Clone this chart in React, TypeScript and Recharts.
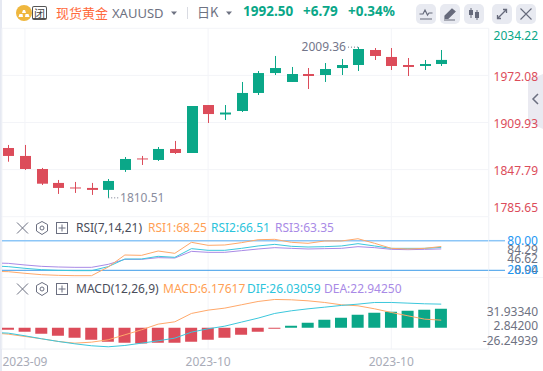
import React from 'react'
import {
  Bar,
  CartesianGrid,
  Cell,
  ComposedChart,
  Line,
  ReferenceDot,
  ReferenceLine,
  XAxis,
  YAxis,
} from 'recharts'

const GREEN = '#0aa788'
const RED = '#dc4c5a'
const ORANGE = '#ffa86a'
const CYAN = '#3cc7dc'
const PURPLE = '#a98ae6'
const GRID = '#f3f4f8'
const FONT = '"Noto Sans", sans-serif'

const opens = [1876.3, 1865.8, 1848.6, 1830.2, 1824.2, 1823.6, 1821, 1847.3, 1862.5, 1860.5, 1875, 1869.7, 1933, 1920.5, 1925.1, 1948.9, 1975.2, 1963.4, 1973.9, 1972.6, 1981.8, 1985.8, 2005.6, 1996.4, 1985.8, 1984.5, 1987.1]
const closes = [1865.8, 1848.6, 1829.2, 1823.6, 1822.9, 1821, 1832.8, 1861.8, 1861.2, 1875, 1869.7, 1931.7, 1921.1, 1923.1, 1948.9, 1975.2, 1981.8, 1973.9, 1971.3, 1980.5, 1985.8, 2006.9, 1997.7, 1984.5, 1983.2, 1987.1, 1992.5]
const highs = [1880.3, 1880.3, 1850, 1834.1, 1831.5, 1830.2, 1835.4, 1864.4, 1865.8, 1877.6, 1885.6, 1931.7, 1933, 1933, 1963.4, 1977.9, 1997.7, 1983.2, 1981.8, 1988.4, 1993.7, 2009.36, 2008.2, 2008.2, 1995, 1992.4, 2005.6]
const lows = [1858.2, 1847.3, 1827.5, 1815.7, 1817, 1814.4, 1810.51, 1844.7, 1853.9, 1859.2, 1868.4, 1869.7, 1909.3, 1913.2, 1923.8, 1946.2, 1972.6, 1963.4, 1954.1, 1963.4, 1972.6, 1977.9, 1992.4, 1979.2, 1971.3, 1979.2, 1984.5]

// first value of each line belongs to the candle just off the left edge
const rsi1 = [18, 17.2, 13.9, 11.1, 9.8, 9.1, 9.1, 26.7, 51, 50.3, 59.1, 54.4, 76.7, 70.6, 71.3, 76, 82, 82.8, 76.7, 74.7, 79.4, 79.4, 84, 74.7, 64.5, 63.2, 64.5, 68.25]
const rsi2 = [29, 27.4, 24, 21.3, 19.9, 19.3, 19.3, 27.4, 42.9, 42.9, 48.3, 46.3, 63.9, 60.5, 60.5, 64.5, 69.3, 72.6, 68.6, 67.2, 67.9, 69.3, 74, 69.3, 64.5, 64.5, 64.5, 66.51]
const rsi3 = [35, 34.1, 30.8, 28, 26.7, 26, 26, 32.1, 42.2, 42.2, 45.6, 44.9, 58.4, 56.4, 56.4, 59.8, 63.2, 65.9, 64.5, 63.2, 63.9, 64.5, 67.9, 65.9, 62.5, 61.8, 62.5, 63.35]

const macdBars = [-4, -7.9, -11.9, -15.9, -19.9, -23.8, -27.8, -29.8, -31.1, -29.8, -29.8, -27.8, -23.8, -19.9, -13.9, -7.9, -2, 4, 9.9, 15.9, 19.9, 25.8, 29.8, 31.8, 33.8, 35.7, 37.7]
const difLine = [-9, -10.6, -15.9, -21.8, -27.1, -31.8, -35.7, -37.7, -35.1, -30.5, -25.8, -20.5, -8.6, -2, 3.3, 11.3, 19.2, 28.5, 33.8, 37.7, 41, 44.4, 47, 50.3, 50.3, 49, 47.7, 47]
const deaLine = [-10, -12.6, -17.2, -21.8, -27.1, -30.5, -28.5, -23.8, -13.9, -4, 7.3, 11.9, 28.5, 35.1, 39.1, 45.7, 52.3, 56.3, 55.6, 53.6, 50.3, 45.7, 43.7, 37.7, 30.5, 23.8, 17.2, 15.2]

const priceTicks = [2034.22, 1972.08, 1909.93, 1847.79, 1785.65]
const rsiTicks = [80, 61.1, 42.9, 20.6, 20]
const rsiTickLabels = ['80.00', '84.29', '46.62', '8.94', '20.00']
const macdTicks = [31.9334, 2.842, -26.24939]
const macdTickLabels = ['31.93340', '2.84200', '-26.24939']
const dateTicks = [1, 12, 23]
const dateTickLabels = ['2023-09', '2023-10', '2023-10']

const candleRows = opens.map((open, i) => ({
  x: i,
  open,
  close: closes[i],
  high: highs[i],
  low: lows[i],
}))
const rsiRows = rsi1.map((v, i) => ({ x: i - 1, rsi1: v, rsi2: rsi2[i], rsi3: rsi3[i] }))
const macdRows = difLine.map((v, i) => ({
  x: i - 1,
  dif: v,
  dea: deaLine[i],
  macd: i === 0 ? null : macdBars[i - 1],
}))

const X_DOMAIN: [number, number] = [-0.378, 28.85]
const AXIS_W = 54.3

function Candle(props: any) {
  const { x, y, width, height, payload } = props
  const perUnit = height / (payload.high - payload.low)
  const top = Math.max(payload.open, payload.close)
  const bottom = Math.min(payload.open, payload.close)
  const color = payload.close >= payload.open ? GREEN : RED
  const cx = Math.round(x + width / 2) + 0.5
  return (
    <g>
      <line x1={cx} x2={cx} y1={y} y2={y + height} stroke={color} strokeWidth={1} />
      <rect
        x={cx - width / 2}
        y={y + (payload.high - top) * perUnit}
        width={width}
        height={Math.max((top - bottom) * perUnit, 1)}
        fill={color}
      />
    </g>
  )
}

function priceTick(props: any) {
  const { y, payload } = props
  // top and bottom labels are pushed inside the pane
  let ty = y + 1.5
  if (payload.value === priceTicks[0]) ty = y + 8
  if (payload.value === priceTicks[4]) ty = y - 9
  return (
    <text x={538} y={ty} dy={4} textAnchor="end" fontSize={12} fontFamily={FONT}
      fill={payload.value === priceTicks[0] ? GREEN : RED}>
      {payload.value.toFixed(2)}
    </text>
  )
}

function rsiTick(props: any) {
  const { y, payload } = props
  const label = rsiTickLabels[rsiTicks.indexOf(payload.value)]
  const blue = payload.value === 80 || payload.value === 20
  return (
    <g>
      {blue && (
        <line x1={488.7} x2={505} y1={y} y2={y}
          stroke={payload.value === 80 ? '#8cc6f7' : '#3d9be9'}
          strokeWidth={payload.value === 80 ? 1.5 : 1} />
      )}
      <text x={538} y={y} dy={4} textAnchor="end" fontSize={12} fontFamily={FONT}
        fill={blue ? '#2196f3' : '#6e7282'}>
        {label}
      </text>
    </g>
  )
}

function macdTick(props: any) {
  const { y, payload } = props
  return (
    <text x={538} y={y} dy={4} textAnchor="end" fontSize={12} fontFamily={FONT} fill="#6e7282">
      {macdTickLabels[macdTicks.indexOf(payload.value)]}
    </text>
  )
}

function Txt({ x, y, color, size = 12, weight = 400, children }: any) {
  return (
    <span
      style={{
        position: 'absolute',
        left: x,
        top: y,
        transform: 'translateY(-50%)',
        color,
        fontSize: size,
        fontWeight: weight,
        fontFamily: FONT,
        lineHeight: 1,
        whiteSpace: 'nowrap',
      }}
    >
      {children}
    </span>
  )
}

function PaneIcons({ y }: { y: number }) {
  const c = '#6b6f80'
  return (
    <svg style={{ position: 'absolute', left: 0, top: y - 8 }} width={72} height={16}>
      <path d="M17 2.5 L28 13.5 M28 2.5 L17 13.5" stroke={c} strokeWidth={1} fill="none" />
      <path d="M42 1.5 L47.5 4.5 V11 L42 14.5 L36.5 11 V4.5 Z" stroke={c} strokeWidth={1} fill="none" />
      <circle cx={42} cy={8} r={2} stroke={c} strokeWidth={1} fill="none" />
      <rect x={56.5} y={2.5} width={11} height={11} stroke={c} strokeWidth={1} fill="none" />
      <path d="M62 4.5 V11.5 M58.5 8 H65.5" stroke={c} strokeWidth={1} fill="none" />
    </svg>
  )
}

function ToolButton({ x, children }: any) {
  return (
    <svg style={{ position: 'absolute', left: x, top: 4 }} width={20} height={20}>
      <rect width={20} height={20} rx={5} fill="#e8eaf1" />
      {children}
    </svg>
  )
}

function Header() {
  const c = '#666a7b'
  return (
    <>
      <svg style={{ position: 'absolute', left: 16, top: 5 }} width={16} height={16}>
        <circle cx={8} cy={8} r={8} fill="#efb73e" />
        <path d="M6 8 L10 8 L9 5 L7 5 Z M2.5 12 L7 12 L6.5 9 L3.5 9 Z M9 12 L13.5 12 L12.5 9 L9.5 9 Z" fill="#fff" />
      </svg>
      <div
        style={{
          position: 'absolute', left: 32, top: 6, width: 15, height: 14, boxSizing: 'border-box',
          border: '1px solid #555', borderBottomWidth: 2, borderRadius: 2, textAlign: 'center',
          fontSize: 11, lineHeight: '12px', color: '#444', fontFamily: '"Noto Sans CJK SC"',
        }}
      >
        闭
      </div>
      <span style={{ position: 'absolute', left: 56, top: 3, fontSize: 13, lineHeight: '19px', color: '#ff6a3d', fontFamily: '"Noto Sans CJK SC"', whiteSpace: 'nowrap' }}>
        现货黄金
      </span>
      <Txt x={112} y={13} color="#6e7282" size={13}>XAUUSD</Txt>
      <svg style={{ position: 'absolute', left: 170, top: 4 }} width={64} height={18}>
        <path d="M1 7.5 H7 L4 11 Z" fill="#6e7282" />
        <line x1={17.5} x2={17.5} y1={3} y2={15} stroke="#d9dbe2" />
        <path d="M56 7.5 H62 L59 11 Z" fill="#6e7282" />
      </svg>
      <span style={{ position: 'absolute', left: 197, top: 2, fontSize: 13, lineHeight: '19px', color: '#6e7282', fontFamily: '"Noto Sans CJK SC"', whiteSpace: 'nowrap' }}>
        日K
      </span>
      <Txt x={243} y={12} color={GREEN} size={13.5} weight={700}>1992.50</Txt>
      <Txt x={303} y={12} color={GREEN} size={13.5} weight={700}>+6.79</Txt>
      <Txt x={348} y={12} color={GREEN} size={13.5} weight={700}>+0.34%</Txt>

      <ToolButton x={416}>
        <path d="M3.5 10 H7 L9 6 L11.5 11 L13 9 H16.5 M4 15 H16" stroke={c} strokeWidth={1.2} fill="none" />
      </ToolButton>
      <ToolButton x={440}>
        <path d="M5 12 L12 5 L15 7.5 L8 14.5 H5 Z M4 16 H15" stroke={c} strokeWidth={1.2} fill={c} />
      </ToolButton>
      <ToolButton x={464}>
        <path d="M7 4 V14 M13 6 V16" stroke={c} strokeWidth={1} />
        <rect x={5} y={6} width={4} height={5} fill={c} />
        <rect x={11} y={8} width={4} height={6} fill={c} />
      </ToolButton>
      <ToolButton x={492}>
        <path d="M6 14 L14 6 M11 5.5 H14.5 V9 M9 14.5 H5.5 V11" stroke={c} strokeWidth={1.3} fill="none" />
      </ToolButton>
      <ToolButton x={516}>
        <path d="M4.5 4.5 L15.5 15.5 M15.5 4.5 L4.5 15.5" stroke={c} strokeWidth={1.1} fill="none" />
      </ToolButton>
    </>
  )
}

function MainPane() {
  return (
    <ComposedChart
      style={{ position: 'absolute', left: 0, top: 0 }}
      width={543}
      height={218}
      data={candleRows}
      margin={{ top: 28.3, right: 0, bottom: 1.3, left: 2 }}
    >
      <CartesianGrid stroke={GRID} />
      <XAxis dataKey="x" type="number" scale="linear" domain={X_DOMAIN} allowDataOverflow ticks={dateTicks} hide />
      <YAxis
        orientation="right"
        width={AXIS_W}
        scale="linear"
        domain={[priceTicks[4], priceTicks[0]]}
        ticks={priceTicks}
        interval={0}
        tick={priceTick}
        tickLine={false}
        axisLine={{ stroke: GRID }}
      />
      <Bar dataKey={(d: any) => [d.low, d.high]} barSize={11} shape={Candle} isAnimationActive={false} />
      <ReferenceLine
        segment={[{ x: 20.4, y: highs[21] }, { x: 21, y: highs[21] }]}
        stroke="#73768a"
        strokeDasharray="1 2"
      />
      <ReferenceDot
        x={20.4}
        y={highs[21]}
        r={0}
        label={{ value: highs[21].toFixed(2), position: 'left', offset: 2, fontSize: 12, fontFamily: FONT, fill: '#73768a' }}
      />
      <ReferenceLine
        segment={[{ x: 6, y: lows[6] }, { x: 6.65, y: lows[6] }]}
        stroke="#73768a"
        strokeDasharray="1 2"
      />
      <ReferenceDot
        x={6.65}
        y={lows[6]}
        r={0}
        label={{ value: lows[6].toFixed(2), position: 'right', offset: 1, fontSize: 12, fontFamily: FONT, fill: '#8a8d9e' }}
      />
    </ComposedChart>
  )
}

function RsiPane() {
  return (
    <ComposedChart
      style={{ position: 'absolute', left: 0, top: 217 }}
      width={543}
      height={60}
      data={rsiRows}
      margin={{ top: 0, right: 0, bottom: 0, left: 2 }}
    >
      <CartesianGrid stroke={GRID} horizontal={false} />
      <XAxis dataKey="x" type="number" scale="linear" domain={X_DOMAIN} allowDataOverflow ticks={dateTicks} hide />
      <YAxis
        orientation="right"
        width={AXIS_W}
        scale="linear"
        domain={[6.42, 128.04]}
        ticks={rsiTicks}
        interval={0}
        tick={rsiTick}
        tickLine={false}
        axisLine={{ stroke: GRID }}
      />
      <ReferenceLine y={80} stroke="#8cc6f7" strokeWidth={1.5} />
      <ReferenceLine y={20} stroke="#3d9be9" />
      <Line dataKey="rsi3" stroke={PURPLE} dot={false} strokeWidth={1} isAnimationActive={false} />
      <Line dataKey="rsi2" stroke={CYAN} dot={false} strokeWidth={1} isAnimationActive={false} />
      <Line dataKey="rsi1" stroke={ORANGE} dot={false} strokeWidth={1} isAnimationActive={false} />
    </ComposedChart>
  )
}

function MacdPane() {
  return (
    <ComposedChart
      style={{ position: 'absolute', left: 0, top: 277 }}
      width={543}
      height={94}
      data={macdRows}
      margin={{ top: 0, right: 0, bottom: 0, left: 2 }}
    >
      <CartesianGrid stroke={GRID} horizontal={false} />
      <XAxis
        dataKey="x"
        type="number"
        scale="linear"
        domain={X_DOMAIN}
        allowDataOverflow
        ticks={dateTicks}
        interval={0}
        height={22}
        tickFormatter={(v: number) => dateTickLabels[dateTicks.indexOf(v)]}
        tick={{ fontSize: 12, fontFamily: FONT, fill: '#a9acb8' }}
        tickLine={false}
        tickMargin={2}
        axisLine={{ stroke: '#eef0f4' }}
      />
      <YAxis
        orientation="right"
        width={AXIS_W}
        scale="linear"
        domain={[-42.1, 100.9]}
        ticks={macdTicks}
        interval={0}
        tick={macdTick}
        tickLine={false}
        axisLine={{ stroke: GRID }}
      />
      <Line dataKey="dea" stroke={ORANGE} dot={false} strokeWidth={1} isAnimationActive={false} />
      <Line dataKey="dif" stroke={CYAN} dot={false} strokeWidth={1} isAnimationActive={false} />
      <Bar dataKey="macd" barSize={12} isAnimationActive={false}>
        {macdRows.map((row, i) => (
          <Cell key={i} fill={(row.macd ?? 0) >= 0 ? GREEN : RED} />
        ))}
      </Bar>
    </ComposedChart>
  )
}

export default function App() {
  return (
    <div
      style={{
        position: 'absolute', left: 0, top: 0, width: 543, height: 371,
        overflow: 'hidden', background: '#fff', fontFamily: FONT,
      }}
    >
      {/* drawn first: the price labels sit on top of the side tab */}
      <svg style={{ position: 'absolute', left: 0, top: 0 }} width={543} height={371}>
        <rect x={0} y={0} width={2} height={371} fill="#e6e9f2" />
        <line x1={2} x2={543} y1={277.5} y2={277.5} stroke={GRID} />
        <path d="M528 80 L543 74 V129 L528 122 Z" fill="#eaeaf1" />
        <path d="M538 94 L533 99 L538 104" stroke="#6b6f80" strokeWidth={1.5} fill="none" />
      </svg>
      <MainPane />
      <RsiPane />
      <MacdPane />
      <Header />

      <PaneIcons y={228} />
      <Txt x={76} y={228} color="#4a4d5a">RSI(7,14,21)</Txt>
      <Txt x={148} y={228} color="#ff9f55">RSI1:68.25</Txt>
      <Txt x={211} y={228} color="#2cc4dc">RSI2:66.51</Txt>
      <Txt x={275} y={228} color={PURPLE}>RSI3:63.35</Txt>

      <PaneIcons y={289} />
      <Txt x={76} y={289} color="#4a4d5a">MACD(12,26,9)</Txt>
      <Txt x={163} y={289} color="#ff9f55">MACD:6.17617</Txt>
      <Txt x={247} y={289} color="#2cc4dc">DIF:26.03059</Txt>
      <Txt x={324} y={289} color={PURPLE}>DEA:22.94250</Txt>
    </div>
  )
}
